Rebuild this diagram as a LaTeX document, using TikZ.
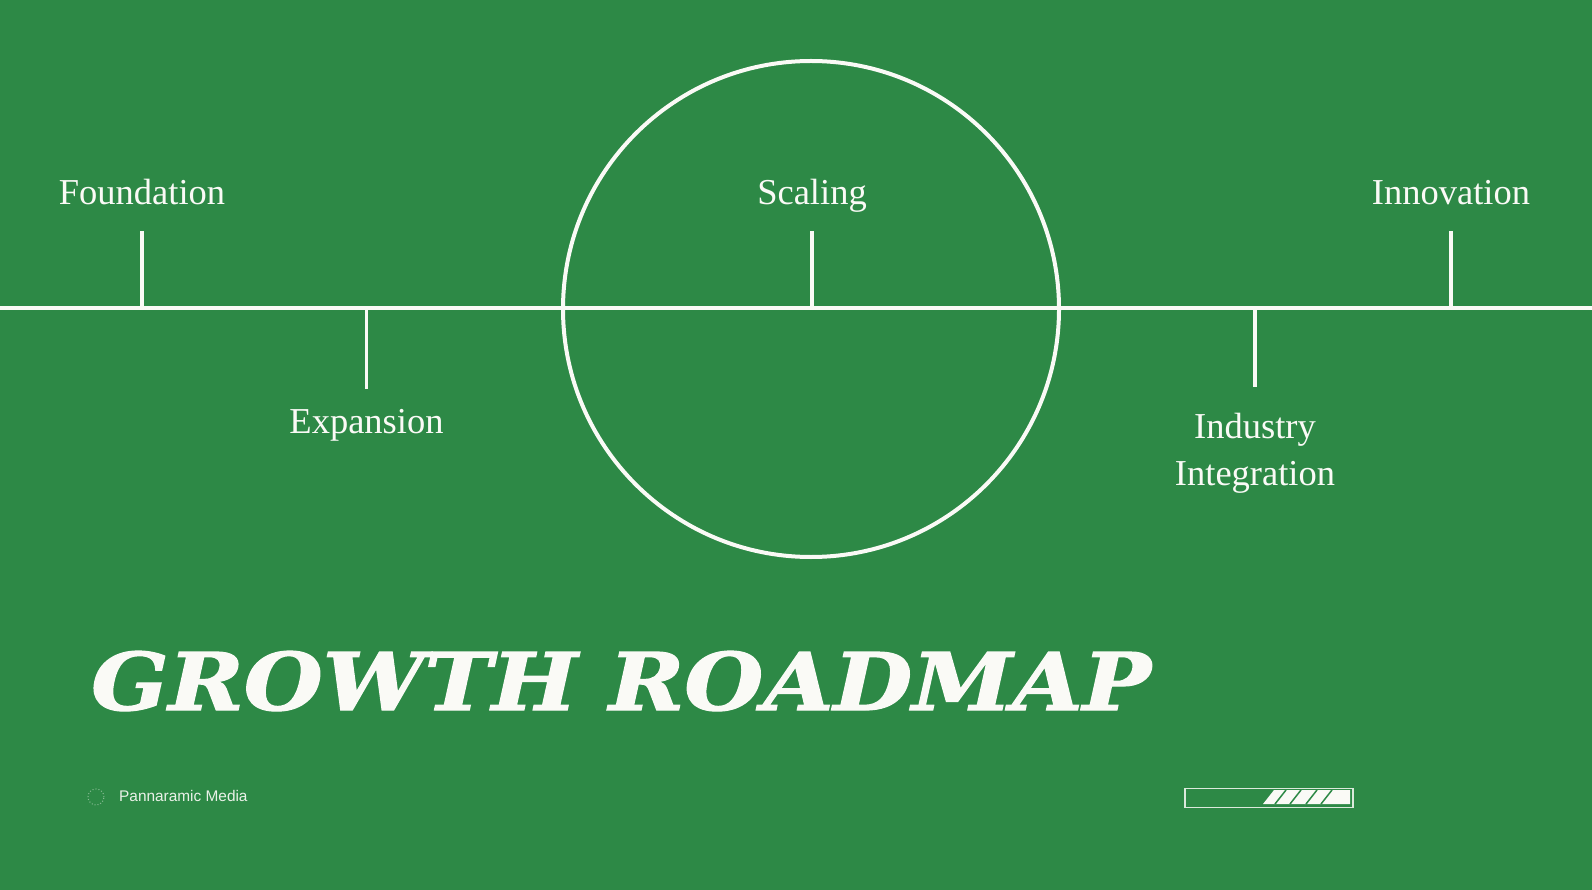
\documentclass[tikz,border=0pt]{standalone}
\usepackage{graphicx}
\usepackage{fontspec}
\setmainfont{Liberation Serif}
\newfontfamily\titlefont{DejaVu Serif}[BoldItalicFeatures={FakeBold=1.5}]
\newfontfamily\brandfont{Liberation Sans}
\usetikzlibrary{positioning,calc}
\definecolor{field}{RGB}{45,137,70}
\definecolor{chalk}{RGB}{250,250,246}
\tikzset{
  axis/.style={draw=chalk,line width=4pt},
  tick/.style={draw=chalk,line width=3.5pt},
  stage/.style={text=chalk,font=\fontsize{36.5}{47}\selectfont,inner sep=0pt,align=center},
  brand/.style={text=chalk!92!field,font=\brandfont\fontsize{15.4}{17}\selectfont,inner sep=0pt},
  bar/.style={draw=chalk!85!field,line width=1.4pt,inner sep=0pt},
  gap/.style={draw=field,line width=1.5pt},
}
\begin{document}
\begin{tikzpicture}[x=1pt,y=-1pt]
\useasboundingbox (0,0) rectangle (1592,890);
\fill[field] (0,0) rectangle (1592,890);
% timeline and hub circle
\coordinate (L) at (0,308);
\coordinate (R) at (1592,308);
\draw[axis] (L) -- (R);
\node[circle,draw=chalk,line width=4pt,minimum size=496pt,inner sep=0pt] (hub) at (811,309) {};
% stages above the line
\foreach \nm/\x/\txt in {found/142/Foundation,scal/812/Scaling,innov/1451/Innovation}{
  \coordinate (\nm-a) at (\x,308);
  \coordinate (\nm-t) at (\x,231);
  \draw[tick] (\nm-a) -- (\nm-t);
  \node[stage,anchor=base] (\nm) at (\x,205) {\txt};
}
% stages below the line
\coordinate (exp-a) at (366.5,308);
\coordinate (exp-t) at (366.5,389);
\draw[tick] (exp-a) -- (exp-t);
\node[stage,anchor=base] (exp) at (366.5,433) {Expansion};
\coordinate (ind-a) at (1255,308);
\coordinate (ind-t) at (1255,387);
\draw[tick] (ind-a) -- (ind-t);
\node[stage,anchor=base] (ind) at (1255,485) {Industry\\Integration};
% title
\node[anchor=base west,inner sep=0pt,text=chalk] (title) at (91,710)
  {\resizebox{1059pt}{59pt}{\titlefont\bfseries\itshape GROWTH ROADMAP}};
% footer
\node[circle,draw=chalk!45!field,dotted,line width=1pt,minimum size=16pt,inner sep=0pt] (logo) at (96,797) {};
\node[brand,anchor=base west] (brand) at (119,801) {Pannaramic Media};
\node[bar,rectangle,minimum width=168pt,minimum height=19.5pt] (track) at (1269,798) {};
\fill[chalk] (1263,804) -- (1274,790) -- (1350,790) -- (1350,804) -- cycle;
\foreach \g in {1286,1301,1317,1332}
  \draw[gap] (\g-11,804) -- (\g,790);
\end{tikzpicture}
\end{document}
